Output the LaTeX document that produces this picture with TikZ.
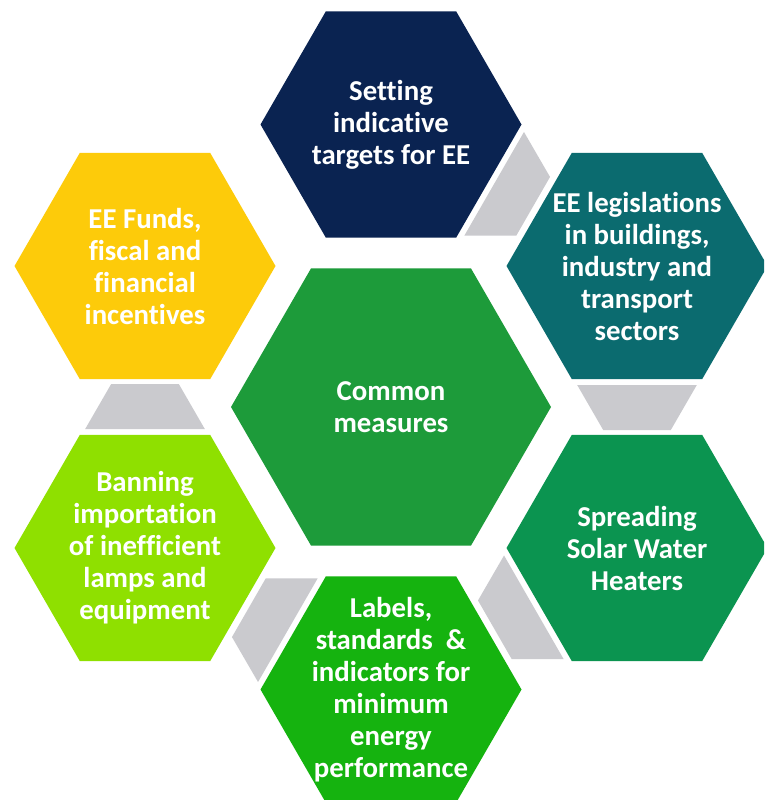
\documentclass[tikz,border=0pt]{standalone}
\usepackage{fontspec}
\setmainfont{Carlito}[Ligatures=NoCommon]
\usetikzlibrary{calc}
\definecolor{navyHex}{HTML}{0A2351}
\definecolor{tealHex}{HTML}{0B6B6F}
\definecolor{solarHex}{HTML}{0B9450}
\definecolor{labelHex}{HTML}{15B30F}
\definecolor{limeHex}{HTML}{8FE000}
\definecolor{yellowHex}{HTML}{FDCB0A}
\definecolor{centerHex}{HTML}{1D9B3A}
\definecolor{connGray}{HTML}{CACACE}
\begin{document}
\begin{tikzpicture}[x=1pt,y=1pt,
  lbl/.style={text=white,font=\bfseries\fontsize{28.8}{32}\selectfont,align=center,inner sep=0pt},
  conn/.style={fill=connGray}]
\useasboundingbox (0,0) rectangle (764,-800);
\clip (0,0) rectangle (764,-800);
\fill[white] (0,0) rectangle (764,-800);
\coordinate (C)  at (391,-407);
\coordinate (T)  at (391,-124.5);
\coordinate (UR) at (637,-266);
\coordinate (LR) at (637,-548);
\coordinate (B)  at (391,-689.5);
\coordinate (LL) at (145,-548);
\coordinate (UL) at (145,-266);
% hexagons
\fill[centerHex] (C) +(0:160) -- +(60:160) -- +(120:160) -- +(180:160) -- +(240:160) -- +(300:160) -- cycle;
\foreach \p/\c in {T/navyHex,UR/tealHex,LR/solarHex,B/labelHex,LL/limeHex,UL/yellowHex}{
  \fill[\c] (\p) +(0:130.5) -- +(60:130.5) -- +(120:130.5) -- +(180:130.5) -- +(240:130.5) -- +(300:130.5) -- cycle;
}
% connectors (gray trapezoids, narrowing clockwise)
\foreach \p/\ang in {T/-29.9,UR/-90,LR/-150.1,B/150.1,LL/90}{
  \begin{scope}[shift={(\p)},rotate=\ang]
    \fill[conn] (119,59.8) -- (119,-59.8) -- (164,-33.8) -- (164,33.8) -- cycle;
  \end{scope}
}
% labels
\node[lbl] (tC)  at (C)  {Common\\measures};
\node[lbl] (tT)  at (T)  {Setting\\indicative\\targets for EE};
\node[lbl] (tUR) at (UR) {EE legislations\\in buildings,\\industry and\\transport\\sectors};
\node[lbl] (tLR) at (LR) {Spreading\\Solar Water\\Heaters};
\node[lbl] (tB)  at (B)  {Labels,\\standards\ \ \&\\indicators for\\minimum\\energy\\performance};
\node[lbl] (tLL) at (LL) {Banning\\importation\\of inefficient\\lamps and\\equipment};
\node[lbl] (tUL) at (UL) {EE Funds,\\fiscal and\\financial\\incentives};
\end{tikzpicture}
\end{document}
